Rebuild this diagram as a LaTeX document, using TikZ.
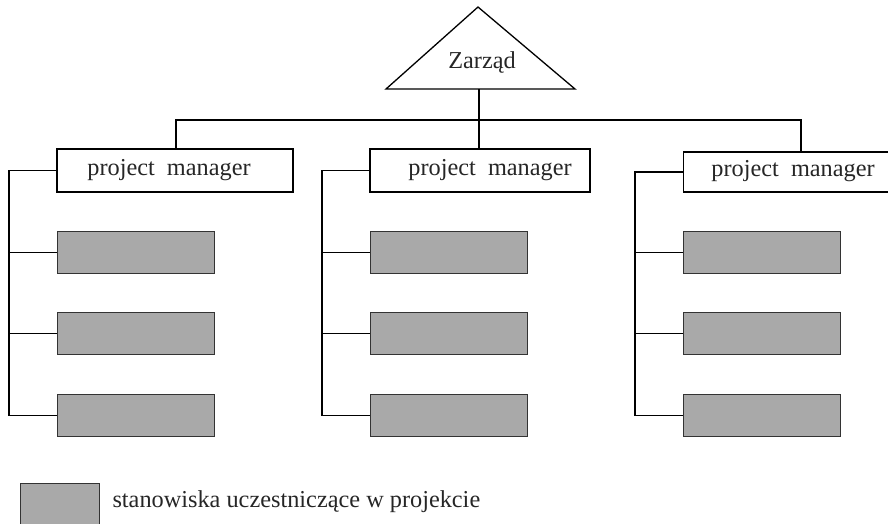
\documentclass[tikz,border=0pt]{standalone}
\usepackage{fontspec}
\setmainfont{Liberation Serif}
\definecolor{boxgray}{RGB}{169,169,169}
\tikzset{
  link/.style={draw=black, line width=1.3pt},
  pmbox/.style={draw=black, line width=1.3pt, fill=white, inner sep=0pt},
  pmtext/.style={inner sep=0pt, text=black!85, font=\fontsize{24.3}{28}\selectfont},
  graybox/.style={draw=black!80, line width=1.4pt, fill=boxgray},
}
\begin{document}
\begin{tikzpicture}[x=1pt,y=-1pt]
\useasboundingbox (0,0) rectangle (888,523);
% triangle
\draw[link] (478,7) -- (575,89) -- (386,89) -- cycle;
\node[pmtext] (zarzad) at (482,62) {Zarząd};
\coordinate (tb) at (479,89);
% project manager boxes
\node[pmbox, minimum width=236pt, minimum height=43pt] (pm1) at (175,170.5) {};
\node[pmbox, minimum width=220pt, minimum height=43pt] (pm2) at (480,170.5) {};
\node[pmbox, minimum width=210pt, minimum height=40pt, anchor=west] (pm3) at (683,172) {};
\node[pmtext] (pm1t) at (169,170) {project\ \ manager};
\node[pmtext] (pm2t) at (490,170) {project\ \ manager};
\node[pmtext] (pm3t) at (793,171) {project\ \ manager};
% top connectors
\coordinate (hl) at (176,120);
\coordinate (hm) at (479,120);
\coordinate (hr) at (801,120);
\draw[link] (tb) -- (pm2.north -| tb);
\draw[link] (pm1.north -| hl) -- (hl) -- (hr) -- (pm3.north -| hr);
% gray boxes
\foreach \g/\x/\b in {1/57/9, 2/370/322, 3/683/635} {
  \node[graybox, minimum width=157pt, minimum height=42pt, anchor=north west] (g\g a) at (\x,231) {};
  \node[graybox, minimum width=157pt, minimum height=42pt, anchor=north west] (g\g b) at (\x,312) {};
  \node[graybox, minimum width=157pt, minimum height=42pt, anchor=north west] (g\g c) at (\x,394) {};
  \coordinate (br\g) at (\b,0);
  \draw[link] (pm\g.west) -- (pm\g.west -| br\g) -- (g\g c.west -| br\g) -- (g\g c.west);
  \draw[link] (g\g a.west -| br\g) -- (g\g a.west);
  \draw[link] (g\g b.west -| br\g) -- (g\g b.west);
}
% legend
\node[graybox, minimum width=79pt, minimum height=42pt, anchor=north west] (leg) at (20,483) {};
\node[anchor=west, font=\fontsize{24.3}{28}\selectfont, text=black!85] (legtext) at (109,502) {stanowiska uczestniczące w projekcie};
\end{tikzpicture}
\end{document}
